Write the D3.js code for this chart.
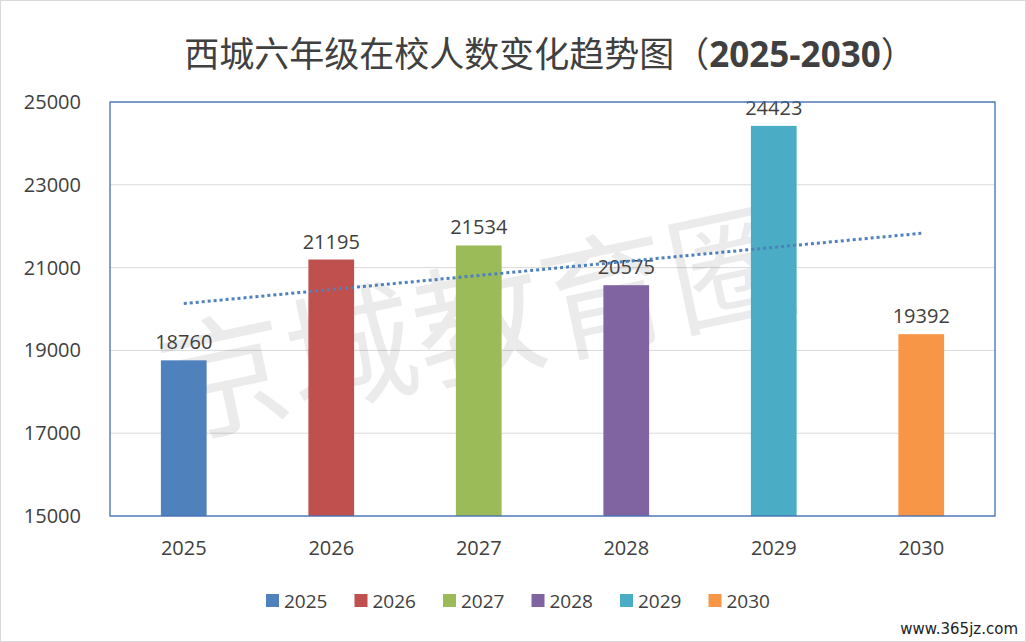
<!DOCTYPE html>
<html>
<head>
<meta charset="UTF-8">
<style>
  body { margin: 0; background: #fff; font-family: 'Noto Sans CJK SC', 'Open Sans', sans-serif; }
  svg { display: block; }
</style>
</head>
<body>
<svg></svg>
<script src="https://d3js.org/d3.v7.min.js"></script>
<script>
// data
let years = ["2025", "2026", "2027", "2028", "2029", "2030"];
let students = [18760, 21195, 21534, 20575, 24423, 19392];
let colors = ["#4F81BD", "#C0504D", "#9BBB59", "#8064A2", "#4BACC6", "#F79646"];
let yTicks = [15000, 17000, 19000, 21000, 23000, 25000];

let w = 1026, h = 642;
let svg = d3.select("svg").attr("width", w).attr("height", h);

// faint spreadsheet cells behind the chart
svg.append("rect").attr("x", 0.5).attr("y", 0.5).attr("width", w - 1).attr("height", h - 1)
    .attr("fill", "#fff").attr("stroke", "#d9d9d9");

let x = d3.scaleBand().domain(years).range([110, 995]).paddingInner(0.69).paddingOuter(0.345);
let y = d3.scaleLinear().domain([15000, 25000]).range([516, 102]);

// gridlines
svg.append("g").selectAll("line").data(yTicks).enter().append("line")
    .attr("x1", 110).attr("x2", 995)
    .attr("y1", d => y(d)).attr("y2", d => y(d))
    .attr("stroke", "#d9d9d9").attr("stroke-width", 1);

// watermark
svg.append("text").attr("x", 480).attr("y", 370).attr("text-anchor", "middle")
    .attr("font-size", 130).attr("fill", "#000").attr("fill-opacity", 0.08)
    .attr("transform", "rotate(-12,480,330)").attr("font-family", "Noto Sans CJK SC")
    .text("京城教育圈");

// bars
svg.append("g").selectAll("rect").data(students).enter().append("rect")
    .attr("x", (d, i) => x(years[i]))
    .attr("y", d => y(d))
    .attr("width", x.bandwidth())
    .attr("height", d => y(15000) - y(d))
    .attr("fill", (d, i) => colors[i]);

// value labels
svg.append("g").selectAll("text").data(students).enter().append("text")
    .attr("x", (d, i) => x(years[i]) + x.bandwidth() / 2)
    .attr("y", d => y(d) - 11)
    .attr("text-anchor", "middle").attr("font-size", 20).attr("fill", "#404040")
    .attr("font-family", "Open Sans")
    .text(d => d);

// linear trendline
let n = students.length, mx = (n - 1) / 2, my = d3.mean(students);
let slope = d3.sum(students, (d, i) => (i - mx) * (d - my)) / d3.sum(students, (d, i) => (i - mx) ** 2);
let cx = i => x(years[i]) + x.bandwidth() / 2;
svg.append("line")
    .attr("x1", cx(0)).attr("y1", y(my - slope * mx))
    .attr("x2", cx(n - 1)).attr("y2", y(my + slope * mx))
    .attr("stroke", "#4F81BD").attr("stroke-width", 3)
    .attr("stroke-dasharray", "3,3");

// plot border
svg.append("rect").attr("x", 110).attr("y", 102).attr("width", 885).attr("height", 414)
    .attr("fill", "none").attr("stroke", "#3F6FB5").attr("stroke-width", 1.3);

// y axis labels
svg.append("g").selectAll("text").data(yTicks).enter().append("text")
    .attr("x", 81).attr("y", d => y(d) + 7)
    .attr("text-anchor", "end").attr("font-size", 20).attr("fill", "#404040")
    .attr("font-family", "Open Sans")
    .text(d => d);

// x axis labels
svg.append("g").selectAll("text").data(years).enter().append("text")
    .attr("x", (d, i) => cx(i)).attr("y", 555)
    .attr("text-anchor", "middle").attr("font-size", 20).attr("fill", "#404040")
    .attr("font-family", "Open Sans")
    .text(d => d);

// title
let title = svg.append("text").attr("x", 550).attr("y", 67).attr("text-anchor", "middle")
    .attr("font-size", 35).attr("fill", "#404040");
title.append("tspan").text("西城六年级在校人数变化趋势图（");
title.append("tspan").attr("font-weight", "bold").attr("font-family", "Open Sans").text("2025-2030");
title.append("tspan").text("）");

// legend
let lg = svg.append("g").selectAll("g").data(years).enter().append("g")
    .attr("transform", (d, i) => `translate(${266 + i * 88.5},601)`);
lg.append("rect").attr("x", 0).attr("y", -7).attr("width", 13).attr("height", 13)
    .attr("fill", (d, i) => colors[i]);
lg.append("text").attr("x", 18).attr("y", 7).attr("font-size", 19).attr("fill", "#404040")
    .attr("font-family", "Open Sans").text(d => d);

// site mark
svg.append("text").attr("x", 1018).attr("y", 634).attr("text-anchor", "end")
    .attr("font-size", 15).attr("fill", "#222").attr("font-family", "DejaVu Sans")
    .text("www.365jz.com");
</script>
</body>
</html>
